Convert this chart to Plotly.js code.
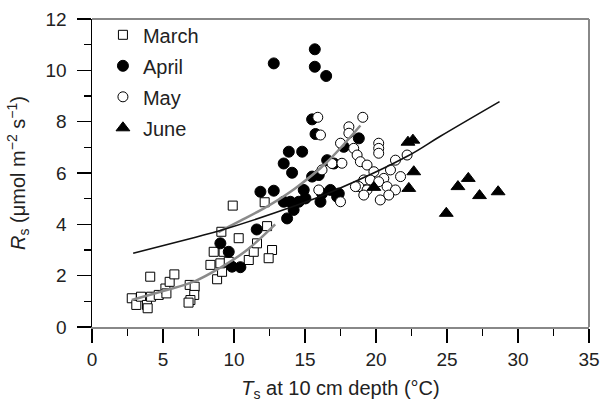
<!DOCTYPE html>
<html>
<head>
<meta charset="utf-8">
<script src="https://cdn.plot.ly/plotly-3.0.1.min.js"></script>
<style>html,body{margin:0;padding:0;background:#fff;}#chart{width:602px;height:406px;}</style>
</head>
<body>
<div id="chart"></div>
<script>
// March (open squares)
const marchT = [2.8,3.12,3.45,3.87,3.92,4.16,4.1,4.7,5.17,5.24,5.47,5.8,6.88,7.23,7.2,6.93,6.8,8.34,8.57,9.27,8.81,9.16,9.04,9.63,9.11,9.91,10.33,11.04,11.39,11.62,12.33,12.68,12.44,12.16];
const marchR = [1.12,0.86,1.18,0.86,0.73,1.18,1.96,1.25,1.5,1.31,1.76,2.05,1.64,1.57,1.25,1.05,0.95,2.42,2.93,2.93,1.86,2.15,2.48,2.54,3.71,4.73,3.46,2.61,2.93,3.26,3.93,3.0,2.68,4.86];
// April (filled circles)
const aprilT = [9.04,9.63,9.86,10.45,11.6,11.86,12.8,12.8,13.5,13.97,14.2,13.74,14.56,14.91,15.03,13.5,14.09,13.86,14.8,15.69,15.69,16.49,15.5,15.74,18.79,16.56,17.03,15.5,15.97,16.2,16.09,16.79,17.38,17.26,17.73];
const aprilR = [3.26,2.93,2.35,2.33,3.8,5.27,5.31,10.27,4.88,4.88,4.56,4.23,4.88,5.34,5.01,6.37,6.01,6.83,6.83,10.82,10.14,9.78,8.09,7.52,7.35,6.5,6.37,5.86,5.92,5.2,4.88,5.34,5.2,5.08,7.02];
// May (open circles)
const mayT = [15.9,16.09,19.07,18.09,18.09,17.5,18.43,18.67,18.9,19.37,19.85,20.19,20.19,20.19,21.37,22.19,21.02,21.73,20.55,19.14,19.6,20.19,18.79,19.37,20.78,21.37,19.14,20.9,20.3,17.5,18.55,16.9,17.6,16.2,15.97];
const mayR = [8.17,7.48,8.17,7.8,7.55,7.16,6.96,6.7,6.44,6.31,6.05,7.16,6.96,6.77,6.5,6.7,6.12,5.86,5.79,5.73,5.73,5.66,5.47,5.34,5.47,5.34,5.14,5.14,4.95,4.88,5.47,6.37,6.38,6.12,5.34];
// June (filled triangles)
const juneT = [22.25,22.6,22.66,22.31,19.85,25.77,26.5,27.29,28.6,24.95];
const juneR = [7.2,7.28,6.05,5.4,5.44,5.47,5.79,5.12,5.27,4.43];
// Fitted curves
const fitAllT = [2.9,7.3,9.1,14.3,16.8,22.3,24.5,28.7];
const fitAllR = [2.87,3.5,3.77,4.72,5.25,6.68,7.42,8.78];
const fitMarT = [2.8,5.0,7.3,9.0,10.8,12.9];
const fitMarR = [1.05,1.4,1.8,2.3,2.95,4.0];
const fitAprT = [8.9,10.5,12.5,14.3,16.5,18.9];
const fitAprR = [3.7,4.15,4.75,5.4,6.4,7.85];

const FONT = 'Liberation Sans, Arial, sans-serif';
const mk = (sym, fill, size) => ({symbol: sym, size: size, color: fill, line: {color: '#000', width: 1}});

const traces = [
  {x: marchT, y: marchR, mode: 'markers', name: 'March', legendgroup: 'a', marker: mk('square', '#fff', 9)},
  {x: aprilT, y: aprilR, mode: 'markers', name: 'April', legendgroup: 'b', marker: mk('circle', '#000', 11)},
  {x: mayT, y: mayR, mode: 'markers', name: 'May', legendgroup: 'c', marker: mk('circle', '#fff', 10)},
  {x: juneT, y: juneR, mode: 'markers', name: 'June', legendgroup: 'd', marker: mk('triangle-up', '#000', 12)},
  {x: fitMarT, y: fitMarR, mode: 'lines', line: {color: '#8a8a8a', width: 2.5, shape: 'spline'}, showlegend: false, hoverinfo: 'skip'},
  {x: fitAprT, y: fitAprR, mode: 'lines', line: {color: '#8a8a8a', width: 2.5, shape: 'spline'}, showlegend: false, hoverinfo: 'skip'},
  {x: fitAllT, y: fitAllR, mode: 'lines', line: {color: '#111', width: 1.6, shape: 'spline'}, showlegend: false, hoverinfo: 'skip'}
];

const layout = {
  width: 602, height: 406,
  margin: {l: 92, r: 13, t: 19, b: 79},
  paper_bgcolor: '#fff', plot_bgcolor: '#fff',
  font: {family: FONT, size: 19, color: '#222'},
  showlegend: true,
  legend: {x: 0.022, y: 1.012, xanchor: 'left', yanchor: 'top', bgcolor: 'rgba(0,0,0,0)',
           font: {family: FONT, size: 20, color: '#222'}, tracegroupgap: 2, itemwidth: 30},
  xaxis: {
    range: [0, 35], dtick: 5, tick0: 0, showgrid: false, zeroline: false,
    showline: true, linecolor: '#888', linewidth: 2,
    ticks: 'outside', ticklen: 14, tickwidth: 1.2, tickcolor: '#000',
    minor: {dtick: 2.5, ticks: 'outside', ticklen: 7, tickwidth: 1.2, tickcolor: '#000'},
    tickfont: {family: FONT, size: 19, color: '#222'},
    title: {text: '<i>T</i><sub>s</sub> at 10 cm depth (°C)', font: {family: FONT, size: 20, color: '#222'}, standoff: 12}
  },
  yaxis: {
    range: [0, 12], dtick: 2, tick0: 0, showgrid: false, zeroline: false,
    showline: true, linecolor: '#000', linewidth: 1.5,
    ticks: 'outside', ticklen: 14, tickwidth: 1.2, tickcolor: '#000',
    minor: {dtick: 1, ticks: 'outside', ticklen: 7, tickwidth: 1.2, tickcolor: '#000'},
    tickfont: {family: FONT, size: 19, color: '#222'},
    ticklabelstandoff: 6,
    title: {text: '<i>R</i><sub>s</sub> (μmol m<sup>−2</sup> s<sup>−1</sup>)', font: {family: FONT, size: 20, color: '#222'}, standoff: 14}
  },
  shapes: [
    {type: 'line', xref: 'paper', yref: 'paper', x0: 0, x1: 1, y0: 1, y1: 1, line: {color: '#888', width: 2}},
    {type: 'line', xref: 'paper', yref: 'paper', x0: 1, x1: 1, y0: 0, y1: 1, line: {color: '#888', width: 2}}
  ]
};

Plotly.newPlot('chart', traces, layout, {displayModeBar: false, staticPlot: true});
</script>
</body>
</html>
